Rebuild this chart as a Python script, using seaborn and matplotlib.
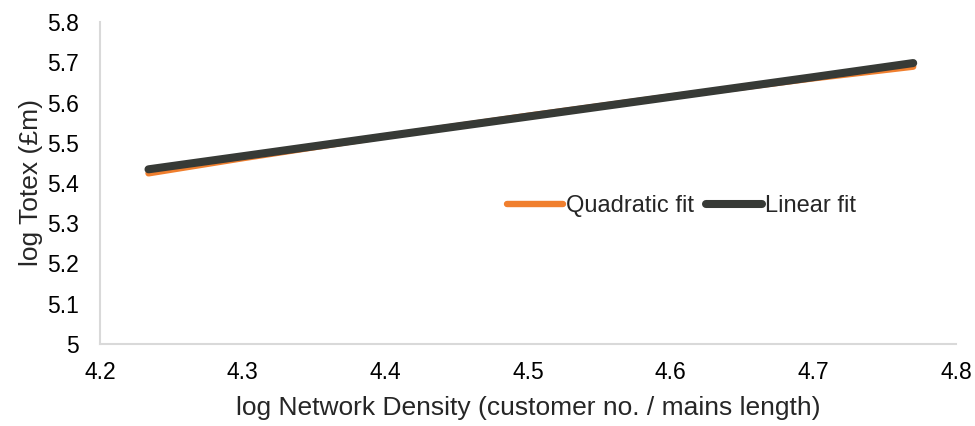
import matplotlib
matplotlib.use("Agg")
import matplotlib.pyplot as plt
import seaborn as sns
import pandas as pd

# Fitted log Totex against log network density
density = [4.234, 4.3, 4.4, 4.5, 4.6, 4.7, 4.770]
quadratic_fit = [5.424, 5.4616, 5.516, 5.567, 5.615, 5.660, 5.689]
linear_fit = [5.434, 5.4665, 5.516, 5.565, 5.614, 5.663, 5.698]
series_names = ["Quadratic fit", "Linear fit"]
x_ticks = [4.2, 4.3, 4.4, 4.5, 4.6, 4.7, 4.8]
y_ticks = [5, 5.1, 5.2, 5.3, 5.4, 5.5, 5.6, 5.7, 5.8]

df = pd.DataFrame({
    "density": density * 2,
    "totex": quadratic_fit + linear_fit,
    "fit": [series_names[0]] * len(density) + [series_names[1]] * len(density),
})

sns.set_theme(style="white")
plt.rcParams["font.family"] = ["Liberation Sans", "DejaVu Sans"]

fig = plt.figure(figsize=(9.75, 4.26), dpi=100)
ax = fig.add_axes([100 / 975, 1 - 344 / 426, 856 / 975, 322 / 426])

palette = {series_names[0]: "#F07F2E", series_names[1]: "#373A36"}
widths = {series_names[0]: 4.6, series_names[1]: 5.8}
for name in series_names:
    sub = df[df["fit"] == name]
    sns.lineplot(data=sub, x="density", y="totex", ax=ax, color=palette[name],
                 linewidth=widths[name], label=name, solid_capstyle="round",
                 sort=True, estimator=None)

ax.set_xlim(4.2, 4.8)
ax.set_ylim(5, 5.8)
ax.set_xticks(x_ticks)
ax.set_xticklabels([f"{v:g}" for v in x_ticks])
ax.set_yticks(y_ticks)
ax.set_yticklabels([f"{v:g}" for v in y_ticks])
ax.tick_params(axis="both", length=0, labelsize=16.5, colors="#000000")
ax.tick_params(axis="x", pad=12)
ax.tick_params(axis="y", pad=15)

for side in ["top", "right"]:
    ax.spines[side].set_visible(False)
for side in ["left", "bottom"]:
    ax.spines[side].set_color("#D9D9D9")
    ax.spines[side].set_linewidth(1.5)

ax.set_xlabel("log Network Density (customer no. / mains length)", fontsize=19, labelpad=9)
ax.set_ylabel("log Totex (£m)", fontsize=19, labelpad=3)

leg = ax.legend(loc="center", bbox_to_anchor=(0.679, 0.429), ncol=2, frameon=False,
                fontsize=17, handlelength=2.4, handletextpad=0.1, columnspacing=0.5)

fig.savefig("out.png", dpi=100, facecolor="white")
